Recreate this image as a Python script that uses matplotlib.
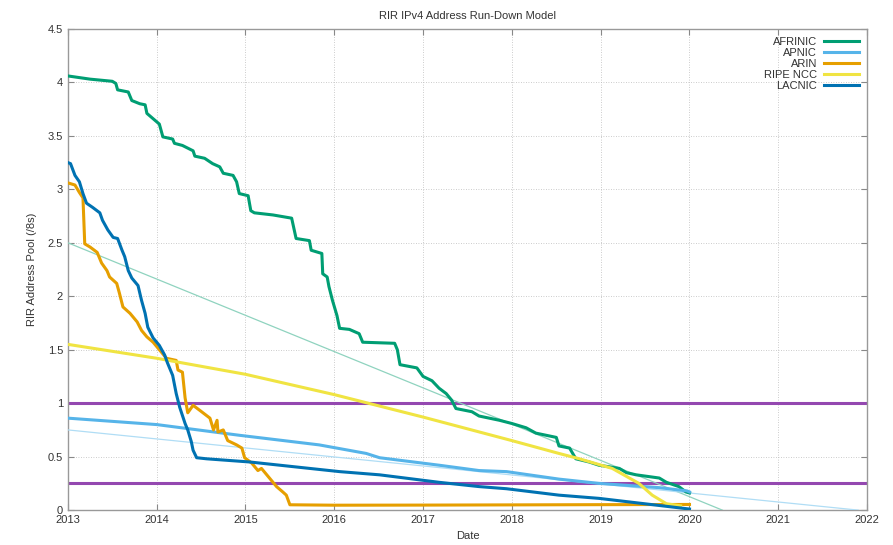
import numpy as np
import matplotlib
matplotlib.use("Agg")
import matplotlib.pyplot as plt

plt.rcParams['font.family'] = ['Liberation Sans', 'DejaVu Sans']

# AFRINIC pool (/8s) by decimal year
afrinic_t = [2013.0, 2013.25, 2013.50, 2013.54, 2013.56, 2013.68, 2013.72, 2013.81, 2013.87, 2013.89,
             2013.96, 2014.03, 2014.07, 2014.18, 2014.20, 2014.29, 2014.41, 2014.43, 2014.54, 2014.63,
             2014.71, 2014.75, 2014.86, 2014.90, 2014.93, 2015.03, 2015.06, 2015.10, 2015.31, 2015.52,
             2015.57, 2015.72, 2015.74, 2015.86, 2015.87, 2015.92, 2015.94, 2015.98, 2016.03, 2016.06,
             2016.17, 2016.28, 2016.32, 2016.68, 2016.71, 2016.74, 2016.93, 2017.00, 2017.10, 2017.18,
             2017.26, 2017.32, 2017.37, 2017.55, 2017.63, 2017.86, 2018.00, 2018.16, 2018.27, 2018.50,
             2018.53, 2018.65, 2018.72, 2018.87, 2018.98, 2019.21, 2019.29, 2019.40, 2019.66, 2019.74,
             2019.88, 2019.96, 2020.00]
afrinic_v = [4.06, 4.03, 4.01, 3.99, 3.93, 3.91, 3.83, 3.80, 3.79, 3.71,
             3.66, 3.61, 3.49, 3.47, 3.43, 3.41, 3.36, 3.31, 3.29, 3.24,
             3.21, 3.15, 3.13, 3.07, 2.96, 2.94, 2.80, 2.78, 2.76, 2.73,
             2.54, 2.52, 2.43, 2.40, 2.21, 2.18, 2.09, 1.96, 1.82, 1.70,
             1.69, 1.65, 1.57, 1.56, 1.50, 1.36, 1.33, 1.25, 1.21, 1.14,
             1.09, 1.03, 0.95, 0.92, 0.88, 0.84, 0.81, 0.77, 0.72, 0.68,
             0.60, 0.58, 0.48, 0.45, 0.42, 0.39, 0.35, 0.33, 0.30, 0.26,
             0.22, 0.17, 0.16]

apnic_t = [2013.0, 2014.0, 2014.93, 2015.83, 2016.36, 2016.51, 2017.18, 2017.63, 2017.94, 2018.53, 2018.98, 2019.66, 2019.97, 2020.0]
apnic_v = [0.86, 0.80, 0.70, 0.61, 0.53, 0.49, 0.42, 0.37, 0.36, 0.29, 0.25, 0.21, 0.18, 0.17]

arin_t = [2013.0, 2013.08, 2013.13, 2013.17, 2013.19, 2013.25, 2013.33, 2013.38, 2013.44, 2013.47,
          2013.55, 2013.58, 2013.62, 2013.70, 2013.78, 2013.83, 2013.89, 2013.96, 2014.01, 2014.06,
          2014.11, 2014.22, 2014.24, 2014.29, 2014.32, 2014.35, 2014.41, 2014.49, 2014.60, 2014.64,
          2014.68, 2014.69, 2014.75, 2014.80, 2014.90, 2014.96, 2014.99, 2015.07, 2015.14, 2015.18,
          2015.24, 2015.29, 2015.35, 2015.42, 2015.46, 2015.50, 2016.0, 2017.0, 2017.5, 2018.0,
          2018.5, 2019.0, 2019.5, 2020.0]
arin_v = [3.06, 3.04, 2.97, 2.92, 2.49, 2.46, 2.41, 2.31, 2.24, 2.18,
          2.12, 2.03, 1.90, 1.84, 1.76, 1.68, 1.62, 1.57, 1.52, 1.47,
          1.42, 1.40, 1.31, 1.29, 1.05, 0.91, 0.98, 0.93, 0.86, 0.75,
          0.84, 0.73, 0.75, 0.65, 0.61, 0.58, 0.49, 0.44, 0.37, 0.39,
          0.33, 0.28, 0.22, 0.17, 0.14, 0.05, 0.046, 0.047, 0.048, 0.049,
          0.050, 0.051, 0.052, 0.053]

ripe_t = [2013.0, 2014.0, 2015.0, 2016.0, 2017.0, 2018.0, 2018.53, 2018.76, 2019.13, 2019.43, 2019.58, 2019.74, 2019.90]
ripe_v = [1.55, 1.42, 1.27, 1.08, 0.87, 0.65, 0.53, 0.48, 0.39, 0.25, 0.14, 0.06, 0.04]

lacnic_t = [2013.0, 2013.03, 2013.08, 2013.13, 2013.17, 2013.21, 2013.28, 2013.36, 2013.39, 2013.45,
            2013.51, 2013.56, 2013.61, 2013.64, 2013.68, 2013.72, 2013.79, 2013.83, 2013.87, 2013.90,
            2013.96, 2014.03, 2014.09, 2014.12, 2014.18, 2014.22, 2014.26, 2014.32, 2014.35, 2014.39,
            2014.41, 2014.45, 2014.56, 2015.05, 2015.61, 2016.06, 2016.51, 2017.18, 2017.63, 2017.94,
            2018.53, 2018.98, 2020.0]
lacnic_v = [3.25, 3.24, 3.13, 3.07, 2.96, 2.87, 2.83, 2.78, 2.71, 2.62,
            2.55, 2.54, 2.43, 2.37, 2.24, 2.17, 2.10, 1.96, 1.84, 1.71,
            1.61, 1.54, 1.45, 1.38, 1.26, 1.09, 0.96, 0.81, 0.75, 0.64,
            0.56, 0.49, 0.48, 0.45, 0.40, 0.36, 0.33, 0.26, 0.22, 0.20,
            0.14, 0.11, 0.01]

# linear run-down trends
afrinic_trend_t = [2013.0, 2020.37]
afrinic_trend_v = [2.50, 0.0]
apnic_trend_t = [2013.0, 2021.9]
apnic_trend_v = [0.75, 0.0]

thresholds = [1.0, 0.25]

fig = plt.figure(figsize=(8.93, 5.45), dpi=100)
ax = fig.add_axes([0.076, 0.064, 0.895, 0.883])

for th in thresholds:
    ax.axhline(th, color='#9448b0', lw=2.2, zorder=2)

ax.plot(afrinic_trend_t, afrinic_trend_v, color='#8fd3bf', lw=0.9, zorder=3)
ax.plot(apnic_trend_t, apnic_trend_v, color='#b0ddf5', lw=0.9, zorder=3)

ax.plot(afrinic_t, afrinic_v, color='#009E73', lw=2.2, label='AFRINIC', zorder=4)
ax.plot(apnic_t, apnic_v, color='#56B4E9', lw=2.2, label='APNIC', zorder=4)
ax.plot(arin_t, arin_v, color='#E69F00', lw=2.2, label='ARIN', zorder=4)
ax.plot(ripe_t, ripe_v, color='#F0E442', lw=2.2, label='RIPE NCC', zorder=4)
ax.plot(lacnic_t, lacnic_v, color='#0072B2', lw=2.2, label='LACNIC', zorder=4)

ax.set_xlim(2013, 2022)
ax.set_ylim(0, 4.5)
ax.set_xticks(range(2013, 2023))
ax.set_xticklabels([str(y) for y in range(2013, 2023)])
ax.set_yticks([0, 0.5, 1, 1.5, 2, 2.5, 3, 3.5, 4, 4.5])
ax.set_yticklabels(['0', '0.5', '1', '1.5', '2', '2.5', '3', '3.5', '4', '4.5'])
ax.tick_params(direction='in', length=4, width=0.8, color='#888888', labelsize=8,
               labelcolor='#333333', top=True, right=True)
ax.grid(True, linestyle=(0, (1, 2)), color='#bbbbbb', lw=0.6)
for s in ax.spines.values():
    s.set_color('#999999')
    s.set_linewidth(1.0)

ax.set_title('RIR IPv4 Address Run-Down Model', fontsize=8, color='#333333', pad=7)
ax.set_xlabel('Date', fontsize=8, color='#333333', labelpad=4)
ax.set_ylabel('RIR Address Pool (/8s)', fontsize=8, color='#333333', labelpad=8)

leg = ax.legend(loc='upper right', frameon=False, markerfirst=False, fontsize=8,
                handlelength=3.2, labelspacing=0.1, borderaxespad=0.3, handletextpad=0.6)
for t in leg.get_texts():
    t.set_color('#333333')

fig.savefig('out.png', dpi=100)
